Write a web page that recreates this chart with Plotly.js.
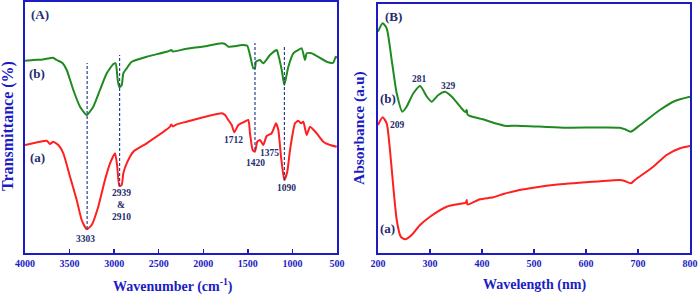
<!DOCTYPE html>
<html><head><meta charset="utf-8">
<script src="https://cdn.plot.ly/plotly-3.0.1.min.js"></script>
<style>html,body{margin:0;padding:0;background:#fff}#c{width:700px;height:296px}</style>
</head><body><div id="c"></div>
<script>
// ---- Panel A: FTIR (wavenumber, transmittance in arbitrary units) ----
const ftirB_x = [4000,3900,3800,3686,3644,3580,3532,3458,3383,3308,3234,3159,3083,3009,2983,2960,2942,2915,2897,2859,2803,2635,2400,2360,2340,2200,2000,1793,1756,1719,1625,1570,1507,1476,1439,1420,1409,1364,1327,1252,1176,1158,1120,1091,1046,990,934,896,859,840,784,616,541,514,500];
const ftirB_y = [192.3,193,193.5,195.3,193,190,183,163,146.3,138,146.3,163,179.7,189,189.7,173,165.7,168,179.7,184.7,191.3,196.3,201.5,203,201.5,204,206.5,209.7,209,206.3,207,208,207.3,198,184.7,185,191.3,193,189.7,198,203,198,183,168,186.3,199.7,203,204.7,193,199.7,199.7,191.3,190.3,196.3,195];
const ftirA_x = [4000,3832,3757,3720,3683,3626,3570,3495,3420,3364,3308,3252,3178,3103,3046,2990,2965,2942,2915,2897,2859,2785,2635,2373,2360,2340,2298,2186,1793,1756,1719,1681,1652,1607,1551,1495,1476,1446,1420,1394,1364,1327,1289,1233,1184,1158,1128,1091,1058,1027,971,934,903,878,840,803,728,654,578,503];
const ftirA_y = [108,111.3,112.3,109,111.3,108,99.7,76.3,53,33,23.7,28,46.3,73,89.7,99.7,86.3,67,68,79.7,89.7,101.3,109.7,126.3,128.5,126.5,128.7,131.3,139.7,138,133,128,120.7,128,130.7,133,119.7,103,101.3,111.3,113,108,117,119.7,129.7,123,96.3,73,81.3,103,129.7,132.3,129.7,131.3,118,126.3,119.7,111.3,108,106.3];
const ftirPeaks = [3303, 2939, 1420, 1090];
const ftirPeakTop = [190, 198, 210, 207];
const ftirPeakBottom = [24, 67, 103, 73];

// ---- Panel B: UV-vis (wavelength, absorbance in arbitrary units) ----
const uvB_x = [200,209,216.7,226.3,236,246.7,255,268,281,294,303,316,329,342,358,368,370.6,372,377,402,425,447,467,556,665,675,686,704,742,771,800];
const uvB_y = [221.3,229.7,224.7,193,159.7,141.3,146.3,159.7,167,156.3,151.3,158,161.3,156.3,146.3,141,143,138.5,137,133.7,129.7,127,127.3,125.3,125.3,123.7,121.3,128,143,152,156.3];
const uvA_x = [200,209,216.7,223,229.4,236,243.7,252,264.8,280.8,300,332,364,369,370.6,372,396,421.7,441,466.7,492.3,537,601,665.4,673,686.5,694,729.4,755,780.8,800];
const uvA_y = [128,135.7,129.7,103,66.3,33,16.3,13.7,18,28,36.3,46.3,49.7,50.5,53,48.5,53.7,55.7,59,62.3,64.7,68,70.7,73,72.3,69.7,73,86.3,98,104.7,107];

const GREEN = '#1f8a1f', RED = '#ff1f1f', BLUE = '#1c1cc4', NAVY = '#1f2d6e';
const SERIF = 'Liberation Serif, Times New Roman, serif';

const traces = [
  {x: ftirB_x, y: ftirB_y, xaxis:'x', yaxis:'y', mode:'lines', line:{color:GREEN, width:2, shape:'spline', smoothing:0.5}},
  {x: ftirA_x, y: ftirA_y, xaxis:'x', yaxis:'y', mode:'lines', line:{color:RED, width:2, shape:'spline', smoothing:0.5}},
  {x: uvB_x, y: uvB_y, xaxis:'x2', yaxis:'y2', mode:'lines', line:{color:GREEN, width:2, shape:'spline', smoothing:0.6}},
  {x: uvA_x, y: uvA_y, xaxis:'x2', yaxis:'y2', mode:'lines', line:{color:RED, width:2, shape:'spline', smoothing:0.6}}
];

const shapes = ftirPeaks.map((p,i)=>({type:'line', xref:'x', yref:'y', x0:p, x1:p, y0:ftirPeakBottom[i], y1:ftirPeakTop[i], line:{color:'#2c3f8f', width:1.2, dash:'3px,2px'}}));

function ann(xref, yref, x, y, text, size, color, extra){
  return Object.assign({xref, yref, x, y, text, showarrow:false, font:{family:SERIF, size, color, weight:'bold'}, xanchor:'center', yanchor:'middle'}, extra||{});
}
const px = v => v/700, py = v => 1 - v/296;
const annotations = [
  ann('paper','paper', px(40), py(15), '(A)', 13, NAVY),
  ann('paper','paper', px(37), py(73), '(b)', 13, NAVY),
  ann('paper','paper', px(37), py(157), '(a)', 13, NAVY),
  ann('paper','paper', px(233), py(140), '1712', 9.5, NAVY),
  ann('paper','paper', px(255), py(163), '1420', 9.5, NAVY),
  ann('paper','paper', px(269), py(153), '1375', 9.5, NAVY),
  ann('paper','paper', px(286), py(188), '1090', 9.5, NAVY),
  ann('paper','paper', px(85), py(239), '3303', 9.5, NAVY),
  ann('paper','paper', px(121), py(193), '2939', 9.5, NAVY),
  ann('paper','paper', px(121), py(205), '&amp;', 9.5, NAVY),
  ann('paper','paper', px(121), py(217), '2910', 9.5, NAVY),
  ann('paper','paper', px(393), py(16), '(B)', 13, NAVY),
  ann('paper','paper', px(388), py(99), '(b)', 13, NAVY),
  ann('paper','paper', px(387), py(228), '(a)', 13, NAVY),
  ann('paper','paper', px(419), py(79), '281', 9.5, NAVY),
  ann('paper','paper', px(448), py(86), '329', 9.5, NAVY),
  ann('paper','paper', px(397), py(125), '209', 9.5, NAVY),
  ann('paper','paper', px(173), py(285), 'Wavenumber (cm<sup>-1</sup>)', 14, BLUE),
  ann('paper','paper', px(534), py(285), 'Wavelength (nm)', 14, BLUE),
  ann('paper','paper', px(8), py(126), 'Transmittance (%)', 16, BLUE, {textangle:-90}),
  ann('paper','paper', px(359), py(128), 'Absorbance (a.u)', 15.5, BLUE, {textangle:-90})
];

const xbase = {showgrid:false, zeroline:false, showline:true, linecolor:BLUE, linewidth:2, mirror:true, ticks:'inside', ticklen:4, tickwidth:1.5, tickcolor:BLUE, tickfont:{family:SERIF, size:10, color:BLUE, weight:'bold'}};
const ybase = {showgrid:false, zeroline:false, showline:true, linecolor:BLUE, linewidth:2, mirror:true, ticks:'', showticklabels:false};

const layout = {
  width:700, height:296, margin:{l:0, r:0, t:0, b:0}, paper_bgcolor:'#fff', plot_bgcolor:'#fff', showlegend:false,
  xaxis: Object.assign({}, xbase, {domain:[25/700, 337/700], range:[4000, 500], tickvals:[4000,3500,3000,2500,2000,1500,1000,500], anchor:'y'}),
  yaxis: Object.assign({}, ybase, {domain:[43/296, 294.5/296], range:[0, 251.5], anchor:'x'}),
  xaxis2: Object.assign({}, xbase, {domain:[378/700, 690/700], range:[200, 800], dtick:100, anchor:'y2'}),
  yaxis2: Object.assign({}, ybase, {domain:[43/296, 292/296], range:[0, 249], anchor:'x2'}),
  shapes, annotations
};
Plotly.newPlot('c', traces, layout, {staticPlot:true, displayModeBar:false});
</script></body></html>
